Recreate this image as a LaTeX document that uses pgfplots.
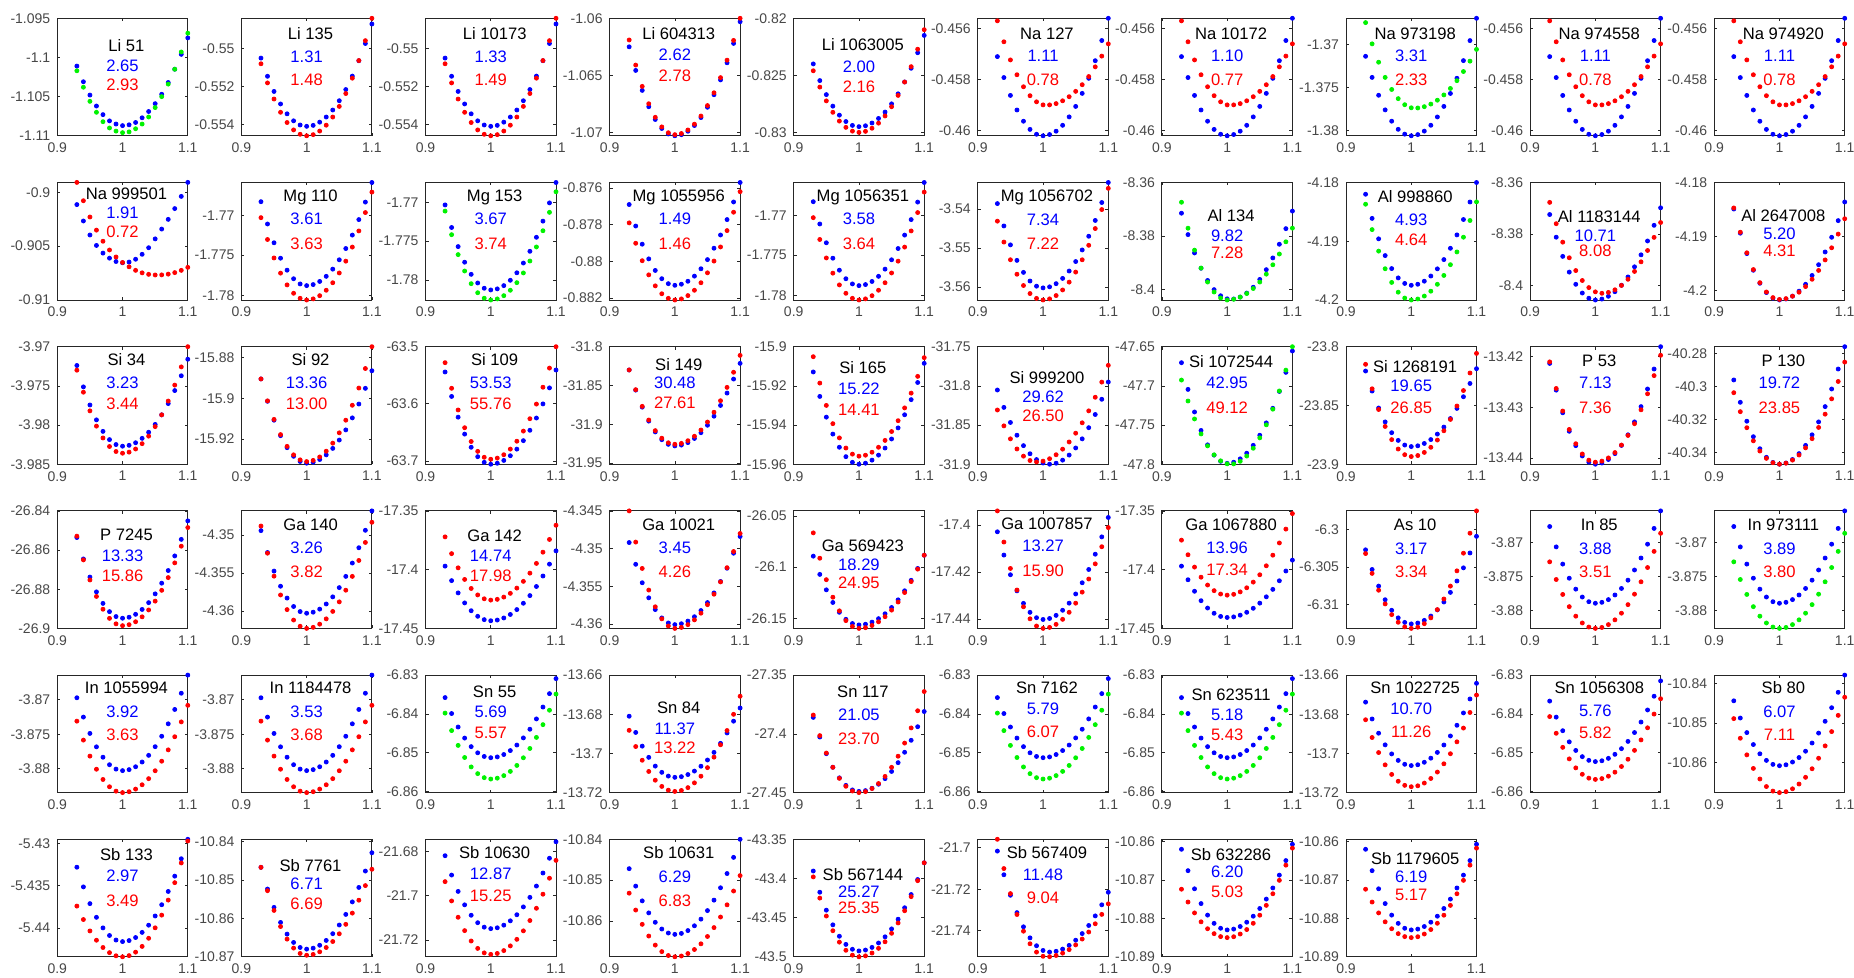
\documentclass[border=0pt]{standalone}
\usepackage{fontspec}
\setmainfont{Liberation Sans}
\usepackage{pgfplots}
\pgfplotsset{compat=1.18}
\definecolor{mb}{rgb}{0,0,1}
\definecolor{mr}{rgb}{1,0,0}
\definecolor{mg}{rgb}{0,0.95,0}
\pgfplotsset{
 cell/.style 2 args={at={({28.65pt+92.05pt*#1},{-9.15pt-82.1pt*#2})}},
 panel/.style={anchor=north west, width=65.25pt, height=58.75pt, scale only axis,
  xmin=0.9, xmax=1.1, xtick={0.9,1,1.1}, scaled ticks=false, clip=false,
  axis line style={black!85, line width=0.45pt}, tick style={black!85, line width=0.35pt},
  major tick length=1.5pt,
  tick label style={font=\fontsize{7}{8}\selectfont, text=black!72},
  yticklabel style={/pgf/number format/fixed, /pgf/number format/precision=4},
  xticklabel style={/pgf/number format/fixed, /pgf/number format/precision=2},
  /pgf/number format/assume math mode=true,
  every axis plot post/.append style={only marks, mark=*, mark size=1pt}}
}
\newcommand{\lab}[6]{%
 \node[font=\fontsize{8.3}{9}\selectfont, text=black] at (rel axis cs:0.53,#4) {#1};
 \node[font=\fontsize{8.3}{9}\selectfont, text=mb] at (rel axis cs:0.5,#5) {#2};
 \node[font=\fontsize{8.3}{9}\selectfont, text=mr] at (rel axis cs:0.5,#6) {#3};}

\newcommand{\dLiA}[1]{%
\addplot[mb] coordinates {(0.93,-1.1011)(0.94,-1.1031)(0.95,-1.1048)(0.96,-1.1062)(0.97,-1.1073)(0.98,-1.1081)(0.99,-1.1085)(1,-1.1087)(1.01,-1.1086)(1.02,-1.1083)(1.03,-1.1077)(1.04,-1.1069)(1.05,-1.1059)(1.06,-1.1047)(1.07,-1.1032)(1.08,-1.1015)(1.09,-1.0996)(1.1,-1.0975)};
\addplot[#1] coordinates {(0.93,-1.1017)(0.94,-1.1038)(0.95,-1.1056)(0.96,-1.107)(0.97,-1.1082)(0.98,-1.109)(0.99,-1.1094)(1,-1.1096)(1.01,-1.1095)(1.02,-1.1091)(1.03,-1.1085)(1.04,-1.1076)(1.05,-1.1064)(1.06,-1.105)(1.07,-1.1034)(1.08,-1.1015)(1.09,-1.0993)(1.1,-1.0969)};}
\newcommand{\dLiB}[1]{%
\addplot[mb] coordinates {(0.93,-0.5505)(0.94,-0.55146)(0.95,-0.55226)(0.96,-0.55292)(0.97,-0.55344)(0.98,-0.55381)(0.99,-0.55403)(1,-0.5541)(1.01,-0.55405)(1.02,-0.55388)(1.03,-0.55361)(1.04,-0.55324)(1.05,-0.55275)(1.06,-0.55216)(1.07,-0.55145)(1.08,-0.55064)(1.09,-0.54973)(1.1,-0.5487)};
\addplot[#1] coordinates {(0.93,-0.5508)(0.94,-0.55181)(0.95,-0.55266)(0.96,-0.55336)(0.97,-0.5539)(0.98,-0.55429)(0.99,-0.55452)(1,-0.5546)(1.01,-0.55454)(1.02,-0.55435)(1.03,-0.55404)(1.04,-0.55361)(1.05,-0.55305)(1.06,-0.55237)(1.07,-0.55156)(1.08,-0.55063)(1.09,-0.54958)(1.1,-0.5484)};}
\newcommand{\dLiC}[1]{%
\addplot[mb] coordinates {(0.93,-1.0625)(0.94,-1.06457)(0.95,-1.06632)(0.96,-1.06775)(0.97,-1.06887)(0.98,-1.06966)(0.99,-1.07014)(1,-1.0703)(1.01,-1.0702)(1.02,-1.0699)(1.03,-1.0694)(1.04,-1.0687)(1.05,-1.0678)(1.06,-1.0667)(1.07,-1.0654)(1.08,-1.0639)(1.09,-1.0622)(1.1,-1.0603)};
\addplot[#1] coordinates {(0.93,-1.0619)(0.94,-1.0641)(0.95,-1.06597)(0.96,-1.06749)(0.97,-1.06868)(0.98,-1.06952)(0.99,-1.07003)(1,-1.0702)(1.01,-1.0701)(1.02,-1.06979)(1.03,-1.06928)(1.04,-1.06857)(1.05,-1.06765)(1.06,-1.06653)(1.07,-1.0652)(1.08,-1.06367)(1.09,-1.06194)(1.1,-1.06)};}
\newcommand{\dLiD}[1]{%
\addplot[mb] coordinates {(0.93,-0.824)(0.94,-0.82546)(0.95,-0.82669)(0.96,-0.8277)(0.97,-0.82849)(0.98,-0.82905)(0.99,-0.82939)(1,-0.8295)(1.01,-0.82942)(1.02,-0.82918)(1.03,-0.82878)(1.04,-0.82822)(1.05,-0.8275)(1.06,-0.82662)(1.07,-0.82558)(1.08,-0.82438)(1.09,-0.82302)(1.1,-0.8215)};
\addplot[#1] coordinates {(0.93,-0.8246)(0.94,-0.82603)(0.95,-0.82724)(0.96,-0.82824)(0.97,-0.82901)(0.98,-0.82956)(0.99,-0.82989)(1,-0.83)(1.01,-0.82991)(1.02,-0.82964)(1.03,-0.82919)(1.04,-0.82856)(1.05,-0.82775)(1.06,-0.82676)(1.07,-0.82559)(1.08,-0.82424)(1.09,-0.82271)(1.1,-0.821)};}
\newcommand{\dNaA}[1]{%
\addplot[mb] coordinates {(0.93,-0.4571)(0.94,-0.45792)(0.95,-0.45862)(0.96,-0.45919)(0.97,-0.45963)(0.98,-0.45995)(0.99,-0.46014)(1,-0.4602)(1.01,-0.46015)(1.02,-0.46002)(1.03,-0.45979)(1.04,-0.45946)(1.05,-0.45905)(1.06,-0.45854)(1.07,-0.45795)(1.08,-0.45726)(1.09,-0.45647)(1.1,-0.4556)};
\addplot[#1] coordinates {(0.93,-0.4557)(0.94,-0.45652)(0.95,-0.45723)(0.96,-0.45781)(0.97,-0.45828)(0.98,-0.45863)(0.99,-0.45887)(1,-0.45899)(1.01,-0.45899)(1.02,-0.45894)(1.03,-0.45883)(1.04,-0.45867)(1.05,-0.45846)(1.06,-0.4582)(1.07,-0.45788)(1.08,-0.4575)(1.09,-0.45708)(1.1,-0.4566)};}
\newcommand{\dNaB}[1]{%
\addplot[mb] coordinates {(0.93,-1.3714)(0.94,-1.37384)(0.95,-1.37591)(0.96,-1.3776)(0.97,-1.37891)(0.98,-1.37985)(0.99,-1.38041)(1,-1.3806)(1.01,-1.38046)(1.02,-1.38006)(1.03,-1.37938)(1.04,-1.37842)(1.05,-1.3772)(1.06,-1.3757)(1.07,-1.37394)(1.08,-1.3719)(1.09,-1.36958)(1.1,-1.367)};
\addplot[#1] coordinates {(0.93,-1.3675)(0.94,-1.36996)(0.95,-1.37208)(0.96,-1.37384)(0.97,-1.37524)(0.98,-1.3763)(0.99,-1.377)(1,-1.37736)(1.01,-1.37738)(1.02,-1.37723)(1.03,-1.37693)(1.04,-1.37648)(1.05,-1.37587)(1.06,-1.37512)(1.07,-1.37422)(1.08,-1.37316)(1.09,-1.37196)(1.1,-1.3706)};}
\newcommand{\dNaC}[1]{%
\addplot[mb] coordinates {(0.93,-0.90115)(0.94,-0.90267)(0.95,-0.90397)(0.96,-0.90494)(0.97,-0.90565)(0.98,-0.90612)(0.99,-0.90643)(1,-0.90655)(1.01,-0.90648)(1.02,-0.90622)(1.03,-0.90576)(1.04,-0.90515)(1.05,-0.90433)(1.06,-0.90342)(1.07,-0.90252)(1.08,-0.90152)(1.09,-0.90039)(1.1,-0.89909)};
\addplot[#1] coordinates {(0.93,-0.89909)(0.94,-0.90079)(0.95,-0.9023)(0.96,-0.90352)(0.97,-0.90455)(0.98,-0.90536)(0.99,-0.90601)(1,-0.90652)(1.01,-0.90692)(1.02,-0.90725)(1.03,-0.90748)(1.04,-0.90762)(1.05,-0.90768)(1.06,-0.90767)(1.07,-0.9076)(1.08,-0.90746)(1.09,-0.90725)(1.1,-0.90697)};}
\newcommand{\dMgA}[1]{%
\addplot[mb] coordinates {(0.93,-1.7683)(0.94,-1.77109)(0.95,-1.77344)(0.96,-1.77537)(0.97,-1.77687)(0.98,-1.77794)(0.99,-1.77859)(1,-1.7788)(1.01,-1.77867)(1.02,-1.77828)(1.03,-1.77764)(1.04,-1.77674)(1.05,-1.77557)(1.06,-1.77416)(1.07,-1.77248)(1.08,-1.77054)(1.09,-1.76835)(1.1,-1.7659)};
\addplot[#1] coordinates {(0.93,-1.7703)(0.94,-1.77303)(0.95,-1.77534)(0.96,-1.77724)(0.97,-1.77871)(0.98,-1.77976)(0.99,-1.78039)(1,-1.7806)(1.01,-1.78046)(1.02,-1.78006)(1.03,-1.77938)(1.04,-1.77844)(1.05,-1.77722)(1.06,-1.77574)(1.07,-1.77398)(1.08,-1.77196)(1.09,-1.76966)(1.1,-1.7671)};}
\newcommand{\dMgB}[1]{%
\addplot[mb] coordinates {(0.93,-1.7703)(0.94,-1.77322)(0.95,-1.77569)(0.96,-1.77771)(0.97,-1.77928)(0.98,-1.7804)(0.99,-1.78108)(1,-1.7813)(1.01,-1.78116)(1.02,-1.78074)(1.03,-1.78005)(1.04,-1.77908)(1.05,-1.77782)(1.06,-1.7763)(1.07,-1.77449)(1.08,-1.7724)(1.09,-1.77004)(1.1,-1.7674)};
\addplot[#1] coordinates {(0.93,-1.7711)(0.94,-1.77415)(0.95,-1.77673)(0.96,-1.77885)(0.97,-1.78049)(0.98,-1.78166)(0.99,-1.78237)(1,-1.7826)(1.01,-1.78246)(1.02,-1.78204)(1.03,-1.78134)(1.04,-1.78036)(1.05,-1.7791)(1.06,-1.77756)(1.07,-1.77574)(1.08,-1.77364)(1.09,-1.77126)(1.1,-1.7686)};}
\newcommand{\dMgC}[1]{%
\addplot[mb] coordinates {(0.93,-0.8769)(0.94,-0.87807)(0.95,-0.87906)(0.96,-0.87986)(0.97,-0.88049)(0.98,-0.88094)(0.99,-0.88121)(1,-0.8813)(1.01,-0.88124)(1.02,-0.88108)(1.03,-0.8808)(1.04,-0.8804)(1.05,-0.8799)(1.06,-0.87928)(1.07,-0.87856)(1.08,-0.87772)(1.09,-0.87676)(1.1,-0.8757)};
\addplot[#1] coordinates {(0.93,-0.8779)(0.94,-0.87901)(0.95,-0.87996)(0.96,-0.88073)(0.97,-0.88133)(0.98,-0.88176)(0.99,-0.88201)(1,-0.8821)(1.01,-0.88204)(1.02,-0.88186)(1.03,-0.88157)(1.04,-0.88116)(1.05,-0.88062)(1.06,-0.87998)(1.07,-0.87921)(1.08,-0.87832)(1.09,-0.87732)(1.1,-0.8762)};}
\newcommand{\dMgD}[1]{%
\addplot[mb] coordinates {(0.93,-3.5386)(0.94,-3.54433)(0.95,-3.54918)(0.96,-3.55315)(0.97,-3.55623)(0.98,-3.55844)(0.99,-3.55976)(1,-3.5602)(1.01,-3.55993)(1.02,-3.55912)(1.03,-3.55777)(1.04,-3.55588)(1.05,-3.55345)(1.06,-3.55048)(1.07,-3.54697)(1.08,-3.54292)(1.09,-3.53833)(1.1,-3.5332)};
\addplot[#1] coordinates {(0.93,-3.5431)(0.94,-3.54846)(0.95,-3.55299)(0.96,-3.5567)(0.97,-3.55959)(0.98,-3.56165)(0.99,-3.56289)(1,-3.5633)(1.01,-3.56301)(1.02,-3.56216)(1.03,-3.56073)(1.04,-3.55872)(1.05,-3.55615)(1.06,-3.553)(1.07,-3.54929)(1.08,-3.545)(1.09,-3.54013)(1.1,-3.5347)};}
\newcommand{\dAlA}[1]{%
\addplot[mb] coordinates {(0.93,-8.3715)(0.94,-8.37951)(0.95,-8.38638)(0.96,-8.39211)(0.97,-8.39669)(0.98,-8.40012)(0.99,-8.40241)(1,-8.40356)(1.01,-8.40361)(1.02,-8.40288)(1.03,-8.40141)(1.04,-8.39922)(1.05,-8.3963)(1.06,-8.39264)(1.07,-8.38825)(1.08,-8.38313)(1.09,-8.37728)(1.1,-8.3707)};
\addplot[#1] coordinates {(0.93,-8.3674)(0.94,-8.37711)(0.95,-8.38533)(0.96,-8.39205)(0.97,-8.39728)(0.98,-8.40101)(0.99,-8.40325)(1,-8.404)(1.01,-8.40373)(1.02,-8.40292)(1.03,-8.40158)(1.04,-8.3997)(1.05,-8.39727)(1.06,-8.39432)(1.07,-8.39082)(1.08,-8.38678)(1.09,-8.38221)(1.1,-8.3771)};}
\newcommand{\dAlB}[1]{%
\addplot[mb] coordinates {(0.93,-4.182)(0.94,-4.18611)(0.95,-4.18959)(0.96,-4.19244)(0.97,-4.19465)(0.98,-4.19624)(0.99,-4.19718)(1,-4.1975)(1.01,-4.19732)(1.02,-4.1968)(1.03,-4.19592)(1.04,-4.1947)(1.05,-4.19312)(1.06,-4.1912)(1.07,-4.18892)(1.08,-4.1863)(1.09,-4.18332)(1.1,-4.18)};
\addplot[#1] coordinates {(0.93,-4.1837)(0.94,-4.18802)(0.95,-4.19168)(0.96,-4.19468)(0.97,-4.19701)(0.98,-4.19867)(0.99,-4.19967)(1,-4.2)(1.01,-4.19983)(1.02,-4.19933)(1.03,-4.1985)(1.04,-4.19733)(1.05,-4.19582)(1.06,-4.19399)(1.07,-4.19182)(1.08,-4.18931)(1.09,-4.18647)(1.1,-4.1833)};}
\newcommand{\dAlC}[1]{%
\addplot[mb] coordinates {(0.93,-8.3724)(0.94,-8.38118)(0.95,-8.38861)(0.96,-8.39469)(0.97,-8.39942)(0.98,-8.4028)(0.99,-8.40482)(1,-8.4055)(1.01,-8.40514)(1.02,-8.40407)(1.03,-8.40229)(1.04,-8.39979)(1.05,-8.39657)(1.06,-8.39265)(1.07,-8.38801)(1.08,-8.38265)(1.09,-8.37658)(1.1,-8.3698)};
\addplot[#1] coordinates {(0.93,-8.3677)(0.94,-8.37595)(0.95,-8.3831)(0.96,-8.38915)(0.97,-8.3941)(0.98,-8.39795)(0.99,-8.4007)(1,-8.40235)(1.01,-8.4029)(1.02,-8.40256)(1.03,-8.40155)(1.04,-8.39986)(1.05,-8.39749)(1.06,-8.39444)(1.07,-8.39072)(1.08,-8.38633)(1.09,-8.38125)(1.1,-8.3755)};}
\newcommand{\dAlD}[1]{%
\addplot[mb] coordinates {(0.93,-4.1849)(0.94,-4.18936)(0.95,-4.19313)(0.96,-4.19621)(0.97,-4.19861)(0.98,-4.20033)(0.99,-4.20136)(1,-4.2017)(1.01,-4.20152)(1.02,-4.20098)(1.03,-4.20007)(1.04,-4.1988)(1.05,-4.19717)(1.06,-4.19518)(1.07,-4.19283)(1.08,-4.19012)(1.09,-4.18704)(1.1,-4.1836)};
\addplot[#1] coordinates {(0.93,-4.1847)(0.94,-4.18918)(0.95,-4.19298)(0.96,-4.19608)(0.97,-4.1985)(0.98,-4.20022)(0.99,-4.20126)(1,-4.2016)(1.01,-4.20145)(1.02,-4.201)(1.03,-4.20026)(1.04,-4.19922)(1.05,-4.19787)(1.06,-4.19624)(1.07,-4.1943)(1.08,-4.19206)(1.09,-4.18953)(1.1,-4.1867)};}
\newcommand{\dSiA}[1]{%
\addplot[mb] coordinates {(0.93,-3.9724)(0.94,-3.97513)(0.95,-3.97744)(0.96,-3.97934)(0.97,-3.98081)(0.98,-3.98186)(0.99,-3.98249)(1,-3.9827)(1.01,-3.98259)(1.02,-3.98226)(1.03,-3.9817)(1.04,-3.98092)(1.05,-3.97992)(1.06,-3.9787)(1.07,-3.97726)(1.08,-3.9756)(1.09,-3.97371)(1.1,-3.9716)};
\addplot[#1] coordinates {(0.93,-3.973)(0.94,-3.97581)(0.95,-3.97819)(0.96,-3.98014)(0.97,-3.98165)(0.98,-3.98274)(0.99,-3.98338)(1,-3.9836)(1.01,-3.98346)(1.02,-3.98306)(1.03,-3.98238)(1.04,-3.98142)(1.05,-3.9802)(1.06,-3.9787)(1.07,-3.97694)(1.08,-3.9749)(1.09,-3.97258)(1.1,-3.97)};}
\newcommand{\dSiB}[1]{%
\addplot[mb] coordinates {(0.93,-15.8905)(0.94,-15.90146)(0.95,-15.91073)(0.96,-15.91832)(0.97,-15.92421)(0.98,-15.92843)(0.99,-15.93096)(1,-15.9318)(1.01,-15.93135)(1.02,-15.92999)(1.03,-15.92772)(1.04,-15.92455)(1.05,-15.92047)(1.06,-15.91549)(1.07,-15.9096)(1.08,-15.90281)(1.09,-15.89511)(1.1,-15.8865)};
\addplot[#1] coordinates {(0.93,-15.8905)(0.94,-15.90125)(0.95,-15.91034)(0.96,-15.91778)(0.97,-15.92356)(0.98,-15.9277)(0.99,-15.93017)(1,-15.931)(1.01,-15.93044)(1.02,-15.92875)(1.03,-15.92593)(1.04,-15.92199)(1.05,-15.91692)(1.06,-15.91073)(1.07,-15.90341)(1.08,-15.89497)(1.09,-15.8854)(1.1,-15.8747)};}
\newcommand{\dSiC}[1]{%
\addplot[mb] coordinates {(0.93,-63.5443)(0.94,-63.58715)(0.95,-63.6234)(0.96,-63.65307)(0.97,-63.67613)(0.98,-63.69262)(0.99,-63.70251)(1,-63.7058)(1.01,-63.70415)(1.02,-63.6992)(1.03,-63.69095)(1.04,-63.6794)(1.05,-63.66455)(1.06,-63.6464)(1.07,-63.62495)(1.08,-63.6002)(1.09,-63.57215)(1.1,-63.5408)};
\addplot[#1] coordinates {(0.93,-63.528)(0.94,-63.57286)(0.95,-63.61082)(0.96,-63.64189)(0.97,-63.66604)(0.98,-63.6833)(0.99,-63.69365)(1,-63.6971)(1.01,-63.69513)(1.02,-63.68922)(1.03,-63.67936)(1.04,-63.66556)(1.05,-63.64782)(1.06,-63.62614)(1.07,-63.60052)(1.08,-63.57096)(1.09,-63.53745)(1.1,-63.5)};}
\newcommand{\dSiD}[1]{%
\addplot[mb] coordinates {(0.93,-31.83)(0.94,-31.85597)(0.95,-31.87795)(0.96,-31.89594)(0.97,-31.90992)(0.98,-31.91991)(0.99,-31.9259)(1,-31.9279)(1.01,-31.92684)(1.02,-31.92364)(1.03,-31.91832)(1.04,-31.91088)(1.05,-31.9013)(1.06,-31.8896)(1.07,-31.87576)(1.08,-31.8598)(1.09,-31.84172)(1.1,-31.8215)};
\addplot[#1] coordinates {(0.93,-31.83)(0.94,-31.85542)(0.95,-31.87692)(0.96,-31.89452)(0.97,-31.9082)(0.98,-31.91798)(0.99,-31.92385)(1,-31.9258)(1.01,-31.92465)(1.02,-31.92122)(1.03,-31.91549)(1.04,-31.90746)(1.05,-31.89715)(1.06,-31.88454)(1.07,-31.86965)(1.08,-31.85246)(1.09,-31.83297)(1.1,-31.8112)};}
\newcommand{\dSiE}[1]{%
\addplot[mb] coordinates {(0.93,-15.9129)(0.94,-15.9254)(0.95,-15.93597)(0.96,-15.94462)(0.97,-15.95135)(0.98,-15.95616)(0.99,-15.95904)(1,-15.96)(1.01,-15.95948)(1.02,-15.95794)(1.03,-15.95536)(1.04,-15.95176)(1.05,-15.94712)(1.06,-15.94146)(1.07,-15.93476)(1.08,-15.92704)(1.09,-15.91828)(1.1,-15.9085)};
\addplot[#1] coordinates {(0.93,-15.9051)(0.94,-15.91858)(0.95,-15.92998)(0.96,-15.93931)(0.97,-15.94657)(0.98,-15.95175)(0.99,-15.95486)(1,-15.9559)(1.01,-15.9554)(1.02,-15.95389)(1.03,-15.95137)(1.04,-15.94785)(1.05,-15.94332)(1.06,-15.93779)(1.07,-15.93125)(1.08,-15.92371)(1.09,-15.91516)(1.1,-15.9056)};}
\newcommand{\dSiF}[1]{%
\addplot[mb] coordinates {(0.93,-31.8053)(0.94,-31.8275)(0.95,-31.84673)(0.96,-31.86301)(0.97,-31.87632)(0.98,-31.88668)(0.99,-31.89408)(1,-31.89852)(1.01,-31.9)(1.02,-31.89871)(1.03,-31.89482)(1.04,-31.88835)(1.05,-31.87928)(1.06,-31.86763)(1.07,-31.85338)(1.08,-31.83655)(1.09,-31.81712)(1.1,-31.7951)};
\addplot[#1] coordinates {(0.93,-31.8308)(0.94,-31.85106)(0.95,-31.86764)(0.96,-31.88052)(0.97,-31.88973)(0.98,-31.89526)(0.99,-31.8971)(1,-31.89608)(1.01,-31.89302)(1.02,-31.88793)(1.03,-31.8808)(1.04,-31.87163)(1.05,-31.86042)(1.06,-31.84716)(1.07,-31.83189)(1.08,-31.81456)(1.09,-31.7952)(1.1,-31.7738)};}
\newcommand{\dSiG}[1]{%
\addplot[mb] coordinates {(0.93,-47.6704)(0.94,-47.70449)(0.95,-47.73334)(0.96,-47.75694)(0.97,-47.77529)(0.98,-47.78841)(0.99,-47.79628)(1,-47.7989)(1.01,-47.79747)(1.02,-47.79316)(1.03,-47.78599)(1.04,-47.77596)(1.05,-47.76305)(1.06,-47.74728)(1.07,-47.72863)(1.08,-47.70712)(1.09,-47.68275)(1.1,-47.6555)};
\addplot[#1] coordinates {(0.93,-47.6926)(0.94,-47.71933)(0.95,-47.74224)(0.96,-47.76134)(0.97,-47.77661)(0.98,-47.78807)(0.99,-47.7957)(1,-47.79953)(1.01,-47.79958)(1.02,-47.79626)(1.03,-47.7896)(1.04,-47.77964)(1.05,-47.76634)(1.06,-47.74972)(1.07,-47.72978)(1.08,-47.7065)(1.09,-47.67991)(1.1,-47.65)};}
\newcommand{\dSiH}[1]{%
\addplot[mb] coordinates {(0.93,-23.8207)(0.94,-23.83776)(0.95,-23.85219)(0.96,-23.86401)(0.97,-23.87319)(0.98,-23.87975)(0.99,-23.88369)(1,-23.885)(1.01,-23.88434)(1.02,-23.88235)(1.03,-23.87903)(1.04,-23.87439)(1.05,-23.86842)(1.06,-23.86113)(1.07,-23.85251)(1.08,-23.84257)(1.09,-23.8313)(1.1,-23.8187)};
\addplot[#1] coordinates {(0.93,-23.815)(0.94,-23.83583)(0.95,-23.85345)(0.96,-23.86787)(0.97,-23.87908)(0.98,-23.88709)(0.99,-23.8919)(1,-23.8935)(1.01,-23.89262)(1.02,-23.88999)(1.03,-23.8856)(1.04,-23.87945)(1.05,-23.87155)(1.06,-23.86189)(1.07,-23.85048)(1.08,-23.83731)(1.09,-23.82238)(1.1,-23.8057)};}
\newcommand{\dPA}[1]{%
\addplot[mb] coordinates {(0.93,-13.4213)(0.94,-13.42658)(0.95,-13.43105)(0.96,-13.4347)(0.97,-13.43754)(0.98,-13.43958)(0.99,-13.44079)(1,-13.4412)(1.01,-13.44097)(1.02,-13.44027)(1.03,-13.43911)(1.04,-13.43749)(1.05,-13.4354)(1.06,-13.43285)(1.07,-13.42983)(1.08,-13.42635)(1.09,-13.42241)(1.1,-13.418)};
\addplot[#1] coordinates {(0.93,-13.421)(0.94,-13.42625)(0.95,-13.4307)(0.96,-13.43434)(0.97,-13.43716)(0.98,-13.43918)(0.99,-13.4404)(1,-13.4408)(1.01,-13.44059)(1.02,-13.43996)(1.03,-13.4389)(1.04,-13.43742)(1.05,-13.43552)(1.06,-13.4332)(1.07,-13.43046)(1.08,-13.4273)(1.09,-13.42371)(1.1,-13.4197)};}
\newcommand{\dPB}[1]{%
\addplot[mb] coordinates {(0.93,-40.2961)(0.94,-40.3096)(0.95,-40.32103)(0.96,-40.33038)(0.97,-40.33765)(0.98,-40.34285)(0.99,-40.34596)(1,-40.347)(1.01,-40.34629)(1.02,-40.34416)(1.03,-40.34061)(1.04,-40.33564)(1.05,-40.32925)(1.06,-40.32144)(1.07,-40.31221)(1.08,-40.30156)(1.09,-40.28949)(1.1,-40.276)};
\addplot[#1] coordinates {(0.93,-40.3038)(0.94,-40.31526)(0.95,-40.32496)(0.96,-40.33289)(0.97,-40.33906)(0.98,-40.34347)(0.99,-40.34612)(1,-40.347)(1.01,-40.34638)(1.02,-40.34453)(1.03,-40.34145)(1.04,-40.33713)(1.05,-40.33157)(1.06,-40.32479)(1.07,-40.31677)(1.08,-40.30751)(1.09,-40.29702)(1.1,-40.2853)};}
\newcommand{\dPC}[1]{%
\addplot[mb] coordinates {(0.93,-26.8536)(0.94,-26.86453)(0.95,-26.87378)(0.96,-26.88135)(0.97,-26.88723)(0.98,-26.89144)(0.99,-26.89396)(1,-26.8948)(1.01,-26.8943)(1.02,-26.89281)(1.03,-26.89033)(1.04,-26.88685)(1.05,-26.88237)(1.06,-26.87691)(1.07,-26.87045)(1.08,-26.86299)(1.09,-26.85454)(1.1,-26.8451)};
\addplot[#1] coordinates {(0.93,-26.8529)(0.94,-26.86502)(0.95,-26.87528)(0.96,-26.88368)(0.97,-26.89021)(0.98,-26.89487)(0.99,-26.89767)(1,-26.8986)(1.01,-26.8981)(1.02,-26.8966)(1.03,-26.89409)(1.04,-26.89058)(1.05,-26.88607)(1.06,-26.88056)(1.07,-26.87405)(1.08,-26.86654)(1.09,-26.85802)(1.1,-26.8485)};}
\newcommand{\dGaA}[1]{%
\addplot[mb] coordinates {(0.93,-4.3494)(0.94,-4.35229)(0.95,-4.35474)(0.96,-4.35674)(0.97,-4.3583)(0.98,-4.35941)(0.99,-4.36008)(1,-4.3603)(1.01,-4.36016)(1.02,-4.35976)(1.03,-4.35908)(1.04,-4.35814)(1.05,-4.35692)(1.06,-4.35544)(1.07,-4.35368)(1.08,-4.35166)(1.09,-4.34936)(1.1,-4.3468)};
\addplot[#1] coordinates {(0.93,-4.3488)(0.94,-4.35238)(0.95,-4.35541)(0.96,-4.35789)(0.97,-4.35982)(0.98,-4.3612)(0.99,-4.36202)(1,-4.3623)(1.01,-4.36216)(1.02,-4.36174)(1.03,-4.36104)(1.04,-4.36006)(1.05,-4.3588)(1.06,-4.35726)(1.07,-4.35544)(1.08,-4.35334)(1.09,-4.35096)(1.1,-4.3483)};}
\newcommand{\dGaB}[1]{%
\addplot[mb] coordinates {(0.93,-17.397)(0.94,-17.40934)(0.95,-17.41978)(0.96,-17.42832)(0.97,-17.43496)(0.98,-17.43971)(0.99,-17.44255)(1,-17.4435)(1.01,-17.4429)(1.02,-17.44112)(1.03,-17.43814)(1.04,-17.43398)(1.05,-17.42862)(1.06,-17.42208)(1.07,-17.41434)(1.08,-17.40542)(1.09,-17.3953)(1.1,-17.384)};
\addplot[#1] coordinates {(0.93,-17.3721)(0.94,-17.38637)(0.95,-17.39845)(0.96,-17.40833)(0.97,-17.41602)(0.98,-17.42151)(0.99,-17.4248)(1,-17.4259)(1.01,-17.42526)(1.02,-17.42335)(1.03,-17.42017)(1.04,-17.41571)(1.05,-17.40997)(1.06,-17.40297)(1.07,-17.39469)(1.08,-17.38513)(1.09,-17.3743)(1.1,-17.3622)};}
\newcommand{\dGaC}[1]{%
\addplot[mb] coordinates {(0.93,-4.3492)(0.94,-4.35209)(0.95,-4.35454)(0.96,-4.35654)(0.97,-4.3581)(0.98,-4.35921)(0.99,-4.35988)(1,-4.3601)(1.01,-4.35998)(1.02,-4.35963)(1.03,-4.35905)(1.04,-4.35823)(1.05,-4.35717)(1.06,-4.35589)(1.07,-4.35437)(1.08,-4.35261)(1.09,-4.35062)(1.1,-4.3484)};
\addplot[#1] coordinates {(0.93,-4.345)(0.94,-4.34914)(0.95,-4.35264)(0.96,-4.35551)(0.97,-4.35773)(0.98,-4.35933)(0.99,-4.36028)(1,-4.3606)(1.01,-4.36047)(1.02,-4.3601)(1.03,-4.35947)(1.04,-4.35858)(1.05,-4.35745)(1.06,-4.35606)(1.07,-4.35443)(1.08,-4.35254)(1.09,-4.35039)(1.1,-4.348)};}
\newcommand{\dGaD}[1]{%
\addplot[mb] coordinates {(0.93,-26.0893)(0.94,-26.10715)(0.95,-26.12226)(0.96,-26.13463)(0.97,-26.14424)(0.98,-26.15111)(0.99,-26.15523)(1,-26.1566)(1.01,-26.15592)(1.02,-26.15387)(1.03,-26.15046)(1.04,-26.14569)(1.05,-26.13955)(1.06,-26.13205)(1.07,-26.12318)(1.08,-26.11295)(1.09,-26.10136)(1.1,-26.0884)};
\addplot[#1] coordinates {(0.93,-26.0665)(0.94,-26.09131)(0.95,-26.1123)(0.96,-26.12947)(0.97,-26.14282)(0.98,-26.15237)(0.99,-26.15809)(1,-26.16)(1.01,-26.15928)(1.02,-26.15714)(1.03,-26.15356)(1.04,-26.14854)(1.05,-26.1421)(1.06,-26.13422)(1.07,-26.12492)(1.08,-26.11418)(1.09,-26.102)(1.1,-26.0884)};}
\newcommand{\dGaE}[1]{%
\addplot[mb] coordinates {(0.93,-17.4029)(0.94,-17.4128)(0.95,-17.42117)(0.96,-17.42802)(0.97,-17.43335)(0.98,-17.43716)(0.99,-17.43944)(1,-17.4402)(1.01,-17.43977)(1.02,-17.43846)(1.03,-17.43629)(1.04,-17.43326)(1.05,-17.42935)(1.06,-17.42458)(1.07,-17.41893)(1.08,-17.41242)(1.09,-17.40505)(1.1,-17.3968)};
\addplot[#1] coordinates {(0.93,-17.394)(0.94,-17.40726)(0.95,-17.41849)(0.96,-17.42767)(0.97,-17.43481)(0.98,-17.43992)(0.99,-17.44298)(1,-17.444)(1.01,-17.44357)(1.02,-17.44228)(1.03,-17.44014)(1.04,-17.43714)(1.05,-17.43327)(1.06,-17.42856)(1.07,-17.42298)(1.08,-17.41654)(1.09,-17.40925)(1.1,-17.4011)};}
\newcommand{\dGaF}[1]{%
\addplot[mb] coordinates {(0.93,-17.397)(0.94,-17.40859)(0.95,-17.4184)(0.96,-17.42643)(0.97,-17.43267)(0.98,-17.43713)(0.99,-17.43981)(1,-17.4407)(1.01,-17.44021)(1.02,-17.43875)(1.03,-17.43631)(1.04,-17.43289)(1.05,-17.4285)(1.06,-17.42313)(1.07,-17.41679)(1.08,-17.40947)(1.09,-17.40117)(1.1,-17.3919)};
\addplot[#1] coordinates {(0.93,-17.3749)(0.94,-17.38732)(0.95,-17.39782)(0.96,-17.40642)(0.97,-17.4131)(0.98,-17.41788)(0.99,-17.42075)(1,-17.4217)(1.01,-17.42101)(1.02,-17.41892)(1.03,-17.41545)(1.04,-17.4106)(1.05,-17.40435)(1.06,-17.39672)(1.07,-17.38769)(1.08,-17.37728)(1.09,-17.36549)(1.1,-17.3523)};}
\newcommand{\dAs}[1]{%
\addplot[mb] coordinates {(0.93,-6.3027)(0.94,-6.30533)(0.95,-6.30755)(0.96,-6.30937)(0.97,-6.31078)(0.98,-6.31179)(0.99,-6.3124)(1,-6.3126)(1.01,-6.31248)(1.02,-6.31213)(1.03,-6.31155)(1.04,-6.31073)(1.05,-6.30967)(1.06,-6.30839)(1.07,-6.30687)(1.08,-6.30511)(1.09,-6.30312)(1.1,-6.3009)};
\addplot[#1] coordinates {(0.93,-6.3032)(0.94,-6.30585)(0.95,-6.3081)(0.96,-6.30993)(0.97,-6.31136)(0.98,-6.31238)(0.99,-6.313)(1,-6.3132)(1.01,-6.31304)(1.02,-6.31257)(1.03,-6.31179)(1.04,-6.31069)(1.05,-6.30927)(1.06,-6.30755)(1.07,-6.30551)(1.08,-6.30315)(1.09,-6.30048)(1.1,-6.2975)};}
\newcommand{\dInA}[1]{%
\addplot[mb] coordinates {(0.93,-3.8676)(0.94,-3.8706)(0.95,-3.87313)(0.96,-3.87521)(0.97,-3.87682)(0.98,-3.87798)(0.99,-3.87867)(1,-3.8789)(1.01,-3.87876)(1.02,-3.87836)(1.03,-3.87768)(1.04,-3.87672)(1.05,-3.8755)(1.06,-3.874)(1.07,-3.87224)(1.08,-3.8702)(1.09,-3.86788)(1.1,-3.8653)};
\addplot[#1] coordinates {(0.93,-3.8728)(0.94,-3.8754)(0.95,-3.8776)(0.96,-3.8794)(0.97,-3.8808)(0.98,-3.8818)(0.99,-3.8824)(1,-3.8826)(1.01,-3.88246)(1.02,-3.88204)(1.03,-3.88134)(1.04,-3.88036)(1.05,-3.8791)(1.06,-3.87756)(1.07,-3.87574)(1.08,-3.87364)(1.09,-3.87126)(1.1,-3.8686)};}
\newcommand{\dInB}[1]{%
\addplot[mb] coordinates {(0.93,-3.8697)(0.94,-3.87251)(0.95,-3.87489)(0.96,-3.87684)(0.97,-3.87835)(0.98,-3.87944)(0.99,-3.88008)(1,-3.8803)(1.01,-3.88016)(1.02,-3.87974)(1.03,-3.87905)(1.04,-3.87808)(1.05,-3.87682)(1.06,-3.8753)(1.07,-3.87349)(1.08,-3.8714)(1.09,-3.86904)(1.1,-3.8664)};
\addplot[#1] coordinates {(0.93,-3.8731)(0.94,-3.87586)(0.95,-3.87819)(0.96,-3.8801)(0.97,-3.88159)(0.98,-3.88265)(0.99,-3.88329)(1,-3.8835)(1.01,-3.88337)(1.02,-3.88299)(1.03,-3.88236)(1.04,-3.88147)(1.05,-3.88032)(1.06,-3.87893)(1.07,-3.87728)(1.08,-3.87537)(1.09,-3.87321)(1.1,-3.8708)};}
\newcommand{\dSnA}[1]{%
\addplot[mb] coordinates {(0.93,-6.8358)(0.94,-6.83991)(0.95,-6.84339)(0.96,-6.84624)(0.97,-6.84845)(0.98,-6.85004)(0.99,-6.85098)(1,-6.8513)(1.01,-6.8511)(1.02,-6.85048)(1.03,-6.84946)(1.04,-6.84804)(1.05,-6.8462)(1.06,-6.84396)(1.07,-6.8413)(1.08,-6.83824)(1.09,-6.83478)(1.1,-6.8309)};
\addplot[#1] coordinates {(0.93,-6.8398)(0.94,-6.84431)(0.95,-6.84813)(0.96,-6.85125)(0.97,-6.85368)(0.98,-6.85541)(0.99,-6.85645)(1,-6.8568)(1.01,-6.85658)(1.02,-6.85592)(1.03,-6.85483)(1.04,-6.8533)(1.05,-6.85132)(1.06,-6.84892)(1.07,-6.84607)(1.08,-6.84278)(1.09,-6.83906)(1.1,-6.8349)};}
\newcommand{\dSnB}[1]{%
\addplot[mb] coordinates {(0.93,-13.681)(0.94,-13.68928)(0.95,-13.69628)(0.96,-13.70201)(0.97,-13.70647)(0.98,-13.70965)(0.99,-13.71156)(1,-13.7122)(1.01,-13.71185)(1.02,-13.71078)(1.03,-13.70901)(1.04,-13.70654)(1.05,-13.70335)(1.06,-13.69946)(1.07,-13.69485)(1.08,-13.68954)(1.09,-13.68353)(1.1,-13.6768)};
\addplot[#1] coordinates {(0.93,-13.6882)(0.94,-13.69648)(0.95,-13.70348)(0.96,-13.70921)(0.97,-13.71367)(0.98,-13.71685)(0.99,-13.71876)(1,-13.7194)(1.01,-13.71891)(1.02,-13.71746)(1.03,-13.71503)(1.04,-13.71162)(1.05,-13.70725)(1.06,-13.7019)(1.07,-13.69559)(1.08,-13.6883)(1.09,-13.68003)(1.1,-13.6708)};}
\newcommand{\dSnC}[1]{%
\addplot[mb] coordinates {(0.93,-27.386)(0.94,-27.40271)(0.95,-27.41686)(0.96,-27.42843)(0.97,-27.43743)(0.98,-27.44386)(0.99,-27.44771)(1,-27.449)(1.01,-27.44832)(1.02,-27.44628)(1.03,-27.44288)(1.04,-27.43812)(1.05,-27.432)(1.06,-27.42452)(1.07,-27.41568)(1.08,-27.40548)(1.09,-27.39392)(1.1,-27.381)};
\addplot[#1] coordinates {(0.93,-27.384)(0.94,-27.40151)(0.95,-27.41633)(0.96,-27.42845)(0.97,-27.43788)(0.98,-27.44461)(0.99,-27.44865)(1,-27.45)(1.01,-27.44914)(1.02,-27.44656)(1.03,-27.44226)(1.04,-27.43624)(1.05,-27.4285)(1.06,-27.41904)(1.07,-27.40786)(1.08,-27.39496)(1.09,-27.38034)(1.1,-27.364)};}
\newcommand{\dSnD}[1]{%
\addplot[mb] coordinates {(0.93,-13.6738)(0.94,-13.6824)(0.95,-13.68967)(0.96,-13.69562)(0.97,-13.70025)(0.98,-13.70356)(0.99,-13.70554)(1,-13.7062)(1.01,-13.70578)(1.02,-13.70452)(1.03,-13.70242)(1.04,-13.69948)(1.05,-13.6957)(1.06,-13.69108)(1.07,-13.68562)(1.08,-13.67932)(1.09,-13.67218)(1.1,-13.6642)};
\addplot[#1] coordinates {(0.93,-13.6828)(0.94,-13.69187)(0.95,-13.69955)(0.96,-13.70583)(0.97,-13.71072)(0.98,-13.71421)(0.99,-13.7163)(1,-13.717)(1.01,-13.71653)(1.02,-13.71513)(1.03,-13.71279)(1.04,-13.70951)(1.05,-13.7053)(1.06,-13.70015)(1.07,-13.69407)(1.08,-13.68705)(1.09,-13.67909)(1.1,-13.6702)};}
\newcommand{\dSnE}[1]{%
\addplot[mb] coordinates {(0.93,-6.8367)(0.94,-6.84084)(0.95,-6.84434)(0.96,-6.84721)(0.97,-6.84943)(0.98,-6.85103)(0.99,-6.85198)(1,-6.8523)(1.01,-6.85209)(1.02,-6.85147)(1.03,-6.85043)(1.04,-6.84897)(1.05,-6.8471)(1.06,-6.84481)(1.07,-6.84211)(1.08,-6.83899)(1.09,-6.83545)(1.1,-6.8315)};
\addplot[#1] coordinates {(0.93,-6.8407)(0.94,-6.845)(0.95,-6.84863)(0.96,-6.85161)(0.97,-6.85392)(0.98,-6.85558)(0.99,-6.85657)(1,-6.8569)(1.01,-6.85669)(1.02,-6.85607)(1.03,-6.85503)(1.04,-6.85357)(1.05,-6.8517)(1.06,-6.84941)(1.07,-6.84671)(1.08,-6.84359)(1.09,-6.84005)(1.1,-6.8361)};}
\newcommand{\dSbA}[1]{%
\addplot[mb] coordinates {(0.93,-10.8444)(0.94,-10.84875)(0.95,-10.85243)(0.96,-10.85545)(0.97,-10.85779)(0.98,-10.85946)(0.99,-10.86047)(1,-10.8608)(1.01,-10.86057)(1.02,-10.85988)(1.03,-10.85874)(1.04,-10.85714)(1.05,-10.85507)(1.06,-10.85256)(1.07,-10.84958)(1.08,-10.84614)(1.09,-10.84225)(1.1,-10.8379)};
\addplot[#1] coordinates {(0.93,-10.8489)(0.94,-10.85386)(0.95,-10.85806)(0.96,-10.86149)(0.97,-10.86416)(0.98,-10.86607)(0.99,-10.86722)(1,-10.8676)(1.01,-10.86736)(1.02,-10.86664)(1.03,-10.86543)(1.04,-10.86374)(1.05,-10.86157)(1.06,-10.85892)(1.07,-10.85579)(1.08,-10.85218)(1.09,-10.84808)(1.1,-10.8435)};}
\newcommand{\dSbB}[1]{%
\addplot[mb] coordinates {(0.93,-5.4328)(0.94,-5.43513)(0.95,-5.43711)(0.96,-5.43873)(0.97,-5.43998)(0.98,-5.44088)(0.99,-5.44142)(1,-5.4416)(1.01,-5.44148)(1.02,-5.44112)(1.03,-5.44051)(1.04,-5.43966)(1.05,-5.43857)(1.06,-5.43724)(1.07,-5.43567)(1.08,-5.43386)(1.09,-5.4318)(1.1,-5.4295)};
\addplot[#1] coordinates {(0.93,-5.4374)(0.94,-5.43899)(0.95,-5.44034)(0.96,-5.44144)(0.97,-5.4423)(0.98,-5.44291)(0.99,-5.44328)(1,-5.4434)(1.01,-5.44326)(1.02,-5.44285)(1.03,-5.44217)(1.04,-5.44121)(1.05,-5.43997)(1.06,-5.43847)(1.07,-5.43669)(1.08,-5.43463)(1.09,-5.4323)(1.1,-5.4297)};}
\newcommand{\dSbC}[1]{%
\addplot[mb] coordinates {(0.93,-10.8467)(0.94,-10.85235)(0.95,-10.85713)(0.96,-10.86105)(0.97,-10.86409)(0.98,-10.86626)(0.99,-10.86757)(1,-10.868)(1.01,-10.86775)(1.02,-10.867)(1.03,-10.86574)(1.04,-10.86398)(1.05,-10.86172)(1.06,-10.85896)(1.07,-10.8557)(1.08,-10.85194)(1.09,-10.84767)(1.1,-10.8429)};
\addplot[#1] coordinates {(0.93,-10.8467)(0.94,-10.85278)(0.95,-10.85792)(0.96,-10.86212)(0.97,-10.86539)(0.98,-10.86773)(0.99,-10.86913)(1,-10.8696)(1.01,-10.86938)(1.02,-10.8687)(1.03,-10.86758)(1.04,-10.86602)(1.05,-10.864)(1.06,-10.86154)(1.07,-10.85862)(1.08,-10.85526)(1.09,-10.85146)(1.1,-10.8472)};}
\newcommand{\dSbD}[1]{%
\addplot[mb] coordinates {(0.93,-21.682)(0.94,-21.69073)(0.95,-21.69811)(0.96,-21.70416)(0.97,-21.70886)(0.98,-21.71222)(0.99,-21.71423)(1,-21.7149)(1.01,-21.71451)(1.02,-21.71333)(1.03,-21.71137)(1.04,-21.70863)(1.05,-21.7051)(1.06,-21.70079)(1.07,-21.69569)(1.08,-21.68981)(1.09,-21.68315)(1.1,-21.6757)};
\addplot[#1] coordinates {(0.93,-21.6937)(0.94,-21.7024)(0.95,-21.70977)(0.96,-21.71579)(0.97,-21.72047)(0.98,-21.72382)(0.99,-21.72583)(1,-21.7265)(1.01,-21.72608)(1.02,-21.7248)(1.03,-21.72268)(1.04,-21.71972)(1.05,-21.7159)(1.06,-21.71124)(1.07,-21.70572)(1.08,-21.69936)(1.09,-21.69216)(1.1,-21.6841)};}
\newcommand{\dSbE}[1]{%
\addplot[mb] coordinates {(0.93,-10.8472)(0.94,-10.85147)(0.95,-10.85509)(0.96,-10.85804)(0.97,-10.86034)(0.98,-10.86199)(0.99,-10.86297)(1,-10.8633)(1.01,-10.86307)(1.02,-10.86237)(1.03,-10.8612)(1.04,-10.85957)(1.05,-10.85747)(1.06,-10.85491)(1.07,-10.85188)(1.08,-10.84839)(1.09,-10.84443)(1.1,-10.84)};
\addplot[#1] coordinates {(0.93,-10.8532)(0.94,-10.85734)(0.95,-10.86084)(0.96,-10.86371)(0.97,-10.86593)(0.98,-10.86753)(0.99,-10.86848)(1,-10.8688)(1.01,-10.8686)(1.02,-10.868)(1.03,-10.86701)(1.04,-10.86562)(1.05,-10.86382)(1.06,-10.86164)(1.07,-10.85905)(1.08,-10.85606)(1.09,-10.85268)(1.1,-10.8489)};}
\newcommand{\dSbF}[1]{%
\addplot[mb] coordinates {(0.93,-43.3905)(0.94,-43.41756)(0.95,-43.44046)(0.96,-43.4592)(0.97,-43.47376)(0.98,-43.48418)(0.99,-43.49042)(1,-43.4925)(1.01,-43.49137)(1.02,-43.488)(1.03,-43.48237)(1.04,-43.4745)(1.05,-43.46437)(1.06,-43.452)(1.07,-43.43737)(1.08,-43.4205)(1.09,-43.40137)(1.1,-43.38)};
\addplot[#1] coordinates {(0.93,-43.398)(0.94,-43.42506)(0.95,-43.44796)(0.96,-43.4667)(0.97,-43.48126)(0.98,-43.49168)(0.99,-43.49792)(1,-43.5)(1.01,-43.4988)(1.02,-43.4952)(1.03,-43.4892)(1.04,-43.4808)(1.05,-43.47)(1.06,-43.4568)(1.07,-43.4412)(1.08,-43.4232)(1.09,-43.4028)(1.1,-43.38)};}
\newcommand{\dSbG}[1]{%
\addplot[mb] coordinates {(0.93,-21.7016)(0.94,-21.71304)(0.95,-21.72295)(0.96,-21.73134)(0.97,-21.7382)(0.98,-21.74354)(0.99,-21.74735)(1,-21.74964)(1.01,-21.7504)(1.02,-21.75004)(1.03,-21.74897)(1.04,-21.74719)(1.05,-21.74469)(1.06,-21.74148)(1.07,-21.73756)(1.08,-21.73292)(1.09,-21.72757)(1.1,-21.7215)};
\addplot[#1] coordinates {(0.93,-21.6959)(0.94,-21.71004)(0.95,-21.72215)(0.96,-21.73225)(0.97,-21.74033)(0.98,-21.74639)(0.99,-21.75043)(1,-21.75245)(1.01,-21.75263)(1.02,-21.75206)(1.03,-21.75093)(1.04,-21.74923)(1.05,-21.74696)(1.06,-21.74412)(1.07,-21.74072)(1.08,-21.73674)(1.09,-21.7322)(1.1,-21.7271)};}
\newcommand{\dSbH}[1]{%
\addplot[mb] coordinates {(0.93,-10.862)(0.94,-10.86757)(0.95,-10.87229)(0.96,-10.87614)(0.97,-10.87914)(0.98,-10.88129)(0.99,-10.88257)(1,-10.883)(1.01,-10.88278)(1.02,-10.88211)(1.03,-10.88099)(1.04,-10.87943)(1.05,-10.87742)(1.06,-10.87497)(1.07,-10.87207)(1.08,-10.86873)(1.09,-10.86494)(1.1,-10.8607)};
\addplot[#1] coordinates {(0.93,-10.8724)(0.94,-10.87574)(0.95,-10.87857)(0.96,-10.88089)(0.97,-10.88269)(0.98,-10.88397)(0.99,-10.88474)(1,-10.885)(1.01,-10.88477)(1.02,-10.88407)(1.03,-10.8829)(1.04,-10.88127)(1.05,-10.87917)(1.06,-10.87661)(1.07,-10.87358)(1.08,-10.87009)(1.09,-10.86613)(1.1,-10.8617)};}

\begin{document}
\begin{tikzpicture}
\useasboundingbox (0pt,-489pt) rectangle (927pt,0pt);
% Row 1
\begin{axis}[panel, cell={0}{0}, ymin=-1.11, ymax=-1.095, ytick={-1.11,-1.105,-1.1,-1.095}]
\dLiA{mg}\lab{Li 51}{2.65}{2.93}{0.77}{0.60}{0.43}
\end{axis}
\begin{axis}[panel, cell={1}{0}, ymin=-0.5546, ymax=-0.5484, ytick={-0.554,-0.552,-0.55}]
\dLiB{mr}\lab{Li 135}{1.31}{1.48}{0.87}{0.675}{0.48}
\end{axis}
\begin{axis}[panel, cell={2}{0}, ymin=-0.5546, ymax=-0.5484, ytick={-0.554,-0.552,-0.55}]
\dLiB{mr}\lab{Li 10173}{1.33}{1.49}{0.87}{0.675}{0.48}
\end{axis}
\begin{axis}[panel, cell={3}{0}, ymin=-1.0703, ymax=-1.06, ytick={-1.07,-1.065,-1.06}]
\dLiC{mr}\lab{Li 604313}{2.62}{2.78}{0.87}{0.69}{0.51}
\end{axis}
\begin{axis}[panel, cell={4}{0}, ymin=-0.8303, ymax=-0.82, ytick={-0.83,-0.825,-0.82}]
\dLiD{mr}\lab{Li 1063005}{2.00}{2.16}{0.78}{0.59}{0.42}
\end{axis}
\begin{axis}[panel, cell={5}{0}, ymin=-0.4602, ymax=-0.4556, ytick={-0.46,-0.458,-0.456}]
\dNaA{mr}\lab{Na 127}{1.11}{0.78}{0.87}{0.68}{0.48}
\end{axis}
\begin{axis}[panel, cell={6}{0}, ymin=-0.4602, ymax=-0.4556, ytick={-0.46,-0.458,-0.456}]
\dNaA{mr}\lab{Na 10172}{1.10}{0.77}{0.87}{0.68}{0.48}
\end{axis}
\begin{axis}[panel, cell={7}{0}, ymin=-1.3806, ymax=-1.367, ytick={-1.38,-1.375,-1.37}]
\dNaB{mg}\lab{Na 973198}{3.31}{2.33}{0.87}{0.68}{0.48}
\end{axis}
\begin{axis}[panel, cell={8}{0}, ymin=-0.4602, ymax=-0.4556, ytick={-0.46,-0.458,-0.456}]
\dNaA{mr}\lab{Na 974558}{1.11}{0.78}{0.87}{0.68}{0.48}
\end{axis}
\begin{axis}[panel, cell={9}{0}, ymin=-0.4602, ymax=-0.4556, ytick={-0.46,-0.458,-0.456}]
\dNaA{mr}\lab{Na 974920}{1.11}{0.78}{0.87}{0.68}{0.48}
\end{axis}
% Row 2
\begin{axis}[panel, cell={0}{1}, ymin=-0.91, ymax=-0.8991, ytick={-0.91,-0.905,-0.9}]
\dNaC{mr}\lab{Na 999501}{1.91}{0.72}{0.90}{0.74}{0.58}
\end{axis}
\begin{axis}[panel, cell={1}{1}, ymin=-1.7806, ymax=-1.7659, ytick={-1.78,-1.775,-1.77}]
\dMgA{mr}\lab{Mg 110}{3.61}{3.63}{0.87}{0.69}{0.48}
\end{axis}
\begin{axis}[panel, cell={2}{1}, ymin=-1.7826, ymax=-1.7674, ytick={-1.78,-1.775,-1.77}]
\dMgB{mg}\lab{Mg 153}{3.67}{3.74}{0.87}{0.69}{0.48}
\end{axis}
\begin{axis}[panel, cell={3}{1}, ymin=-0.8821, ymax=-0.8757, ytick={-0.882,-0.88,-0.878,-0.876}]
\dMgC{mr}\lab{Mg 1055956}{1.49}{1.46}{0.87}{0.69}{0.48}
\end{axis}
\begin{axis}[panel, cell={4}{1}, ymin=-1.7806, ymax=-1.7659, ytick={-1.78,-1.775,-1.77}]
\dMgA{mr}\lab{Mg 1056351}{3.58}{3.64}{0.87}{0.69}{0.48}
\end{axis}
\begin{axis}[panel, cell={5}{1}, ymin=-3.5633, ymax=-3.5332, ytick={-3.56,-3.55,-3.54}]
\dMgD{mr}\lab{Mg 1056702}{7.34}{7.22}{0.87}{0.68}{0.48}
\end{axis}
\begin{axis}[panel, cell={6}{1}, ymin=-8.404, ymax=-8.36, ytick={-8.4,-8.38,-8.36}]
\dAlA{mg}\lab{Al 134}{9.82}{7.28}{0.72}{0.55}{0.40}
\end{axis}
\begin{axis}[panel, cell={7}{1}, ymin=-4.2, ymax=-4.18, ytick={-4.2,-4.19,-4.18}]
\dAlB{mg}\lab{Al 998860}{4.93}{4.64}{0.88}{0.68}{0.51}
\end{axis}
\begin{axis}[panel, cell={8}{1}, ymin=-8.4055, ymax=-8.36, ytick={-8.4,-8.38,-8.36}]
\dAlC{mr}\lab{Al 1183144}{10.71}{8.08}{0.71}{0.55}{0.42}
\end{axis}
\begin{axis}[panel, cell={9}{1}, ymin=-4.2017, ymax=-4.18, ytick={-4.2,-4.19,-4.18}]
\dAlD{mr}\lab{Al 2647008}{5.20}{4.31}{0.72}{0.56}{0.42}
\end{axis}
% Row 3
\begin{axis}[panel, cell={0}{2}, ymin=-3.985, ymax=-3.97, ytick={-3.985,-3.98,-3.975,-3.97}]
\dSiA{mr}\lab{Si 34}{3.23}{3.44}{0.89}{0.69}{0.51}
\end{axis}
\begin{axis}[panel, cell={1}{2}, ymin=-15.9323, ymax=-15.8747, ytick={-15.92,-15.9,-15.88}]
\dSiB{mr}\lab{Si 92}{13.36}{13.00}{0.89}{0.69}{0.51}
\end{axis}
\begin{axis}[panel, cell={2}{2}, ymin=-63.7058, ymax=-63.5, ytick={-63.7,-63.6,-63.5}]
\dSiC{mr}\lab{Si 109}{53.53}{55.76}{0.89}{0.69}{0.51}
\end{axis}
\begin{axis}[panel, cell={3}{2}, ymin=-31.9515, ymax=-31.8, ytick={-31.95,-31.9,-31.85,-31.8}]
\dSiD{mr}\lab{Si 149}{30.48}{27.61}{0.85}{0.69}{0.52}
\end{axis}
\begin{axis}[panel, cell={4}{2}, ymin=-15.96, ymax=-15.9, ytick={-15.96,-15.94,-15.92,-15.9}]
\dSiE{mr}\lab{Si 165}{15.22}{14.41}{0.82}{0.64}{0.46}
\end{axis}
\begin{axis}[panel, cell={5}{2}, ymin=-31.9, ymax=-31.75, ytick={-31.9,-31.85,-31.8,-31.75}]
\dSiF{mr}\lab{Si 999200}{29.62}{26.50}{0.74}{0.57}{0.41}
\end{axis}
\begin{axis}[panel, cell={6}{2}, ymin=-47.8, ymax=-47.65, ytick={-47.8,-47.75,-47.7,-47.65}]
\dSiG{mg}\lab{Si 1072544}{42.95}{49.12}{0.87}{0.69}{0.48}
\end{axis}
\begin{axis}[panel, cell={7}{2}, ymin=-23.9, ymax=-23.8, ytick={-23.9,-23.85,-23.8}]
\dSiH{mr}\lab{Si 1268191}{19.65}{26.85}{0.83}{0.67}{0.48}
\end{axis}
\begin{axis}[panel, cell={8}{2}, ymin=-13.4412, ymax=-13.418, ytick={-13.44,-13.43,-13.42}]
\dPA{mr}\lab{P 53}{7.13}{7.36}{0.88}{0.69}{0.48}
\end{axis}
\begin{axis}[panel, cell={9}{2}, ymin=-40.347, ymax=-40.276, ytick={-40.34,-40.32,-40.3,-40.28}]
\dPB{mr}\lab{P 130}{19.72}{23.85}{0.88}{0.69}{0.48}
\end{axis}
% Row 4
\begin{axis}[panel, cell={0}{3}, ymin=-26.9, ymax=-26.84, ytick={-26.9,-26.88,-26.86,-26.84}]
\dPC{mr}\lab{P 7245}{13.33}{15.86}{0.80}{0.62}{0.45}
\end{axis}
\begin{axis}[panel, cell={1}{3}, ymin=-4.3623, ymax=-4.3468, ytick={-4.36,-4.355,-4.35}]
\dGaA{mr}\lab{Ga 140}{3.26}{3.82}{0.88}{0.69}{0.48}
\end{axis}
\begin{axis}[panel, cell={2}{3}, ymin=-17.45, ymax=-17.35, ytick={-17.45,-17.4,-17.35}]
\dGaB{mr}\lab{Ga 142}{14.74}{17.98}{0.79}{0.62}{0.45}
\end{axis}
\begin{axis}[panel, cell={3}{3}, ymin=-4.3606, ymax=-4.345, ytick={-4.36,-4.355,-4.35,-4.345}]
\dGaC{mr}\lab{Ga 10021}{3.45}{4.26}{0.88}{0.69}{0.48}
\end{axis}
\begin{axis}[panel, cell={4}{3}, ymin=-26.16, ymax=-26.045, ytick={-26.15,-26.1,-26.05}]
\dGaD{mr}\lab{Ga 569423}{18.29}{24.95}{0.70}{0.54}{0.39}
\end{axis}
\begin{axis}[panel, cell={5}{3}, ymin=-17.444, ymax=-17.394, ytick={-17.44,-17.42,-17.4}]
\dGaE{mr}\lab{Ga 1007857}{13.27}{15.90}{0.89}{0.70}{0.49}
\end{axis}
\begin{axis}[panel, cell={6}{3}, ymin=-17.45, ymax=-17.35, ytick={-17.45,-17.4,-17.35}]
\dGaF{mr}\lab{Ga 1067880}{13.96}{17.34}{0.88}{0.69}{0.50}
\end{axis}
\begin{axis}[panel, cell={7}{3}, ymin=-6.3132, ymax=-6.2975, ytick={-6.31,-6.305,-6.3}]
\dAs{mr}\lab{As 10}{3.17}{3.34}{0.88}{0.68}{0.48}
\end{axis}
\begin{axis}[panel, cell={8}{3}, ymin=-3.8826, ymax=-3.8653, ytick={-3.88,-3.875,-3.87}]
\dInA{mr}\lab{In 85}{3.88}{3.51}{0.88}{0.68}{0.48}
\end{axis}
\begin{axis}[panel, cell={9}{3}, ymin=-3.8826, ymax=-3.8653, ytick={-3.88,-3.875,-3.87}]
\dInA{mg}\lab{In 973111}{3.89}{3.80}{0.88}{0.68}{0.48}
\end{axis}
% Row 5
\begin{axis}[panel, cell={0}{4}, ymin=-3.8835, ymax=-3.8664, ytick={-3.88,-3.875,-3.87}]
\dInB{mr}\lab{In 1055994}{3.92}{3.63}{0.89}{0.69}{0.49}
\end{axis}
\begin{axis}[panel, cell={1}{4}, ymin=-3.8835, ymax=-3.8664, ytick={-3.88,-3.875,-3.87}]
\dInB{mr}\lab{In 1184478}{3.53}{3.68}{0.89}{0.69}{0.49}
\end{axis}
\begin{axis}[panel, cell={2}{4}, ymin=-6.8603, ymax=-6.83, ytick={-6.86,-6.85,-6.84,-6.83}]
\dSnA{mg}\lab{Sn 55}{5.69}{5.57}{0.86}{0.69}{0.51}
\end{axis}
\begin{axis}[panel, cell={3}{4}, ymin=-13.72, ymax=-13.66, ytick={-13.72,-13.7,-13.68,-13.66}]
\dSnB{mr}\lab{Sn 84}{11.37}{13.22}{0.72}{0.54}{0.38}
\end{axis}
\begin{axis}[panel, cell={4}{4}, ymin=-27.45, ymax=-27.35, ytick={-27.45,-27.4,-27.35}]
\dSnC{mr}\lab{Sn 117}{21.05}{23.70}{0.86}{0.66}{0.46}
\end{axis}
\begin{axis}[panel, cell={5}{4}, ymin=-6.8603, ymax=-6.83, ytick={-6.86,-6.85,-6.84,-6.83}]
\dSnA{mg}\lab{Sn 7162}{5.79}{6.07}{0.89}{0.71}{0.52}
\end{axis}
\begin{axis}[panel, cell={6}{4}, ymin=-6.8603, ymax=-6.83, ytick={-6.86,-6.85,-6.84,-6.83}]
\dSnA{mg}\lab{Sn 623511}{5.18}{5.43}{0.83}{0.66}{0.49}
\end{axis}
\begin{axis}[panel, cell={7}{4}, ymin=-13.72, ymax=-13.66, ytick={-13.72,-13.7,-13.68,-13.66}]
\dSnD{mr}\lab{Sn 1022725}{10.70}{11.26}{0.89}{0.71}{0.52}
\end{axis}
\begin{axis}[panel, cell={8}{4}, ymin=-6.8603, ymax=-6.83, ytick={-6.86,-6.85,-6.84,-6.83}]
\dSnE{mr}\lab{Sn 1056308}{5.76}{5.82}{0.89}{0.70}{0.51}
\end{axis}
\begin{axis}[panel, cell={9}{4}, ymin=-10.8676, ymax=-10.8379, ytick={-10.86,-10.85,-10.84}]
\dSbA{mr}\lab{Sb 80}{6.07}{7.11}{0.89}{0.69}{0.49}
\end{axis}
% Row 6
\begin{axis}[panel, cell={0}{5}, ymin=-5.4434, ymax=-5.4295, ytick={-5.44,-5.435,-5.43}]
\dSbB{mr}\lab{Sb 133}{2.97}{3.49}{0.87}{0.69}{0.48}
\end{axis}
\begin{axis}[panel, cell={1}{5}, ymin=-10.87, ymax=-10.8394, ytick={-10.87,-10.86,-10.85,-10.84}]
\dSbC{mr}\lab{Sb 7761}{6.71}{6.69}{0.78}{0.62}{0.45}
\end{axis}
\begin{axis}[panel, cell={2}{5}, ymin=-21.7276, ymax=-21.6746, ytick={-21.72,-21.7,-21.68}]
\dSbD{mr}\lab{Sb 10630}{12.87}{15.25}{0.89}{0.71}{0.52}
\end{axis}
\begin{axis}[panel, cell={3}{5}, ymin=-10.8688, ymax=-10.84, ytick={-10.86,-10.85,-10.84}]
\dSbE{mr}\lab{Sb 10631}{6.29}{6.83}{0.89}{0.68}{0.48}
\end{axis}
\begin{axis}[panel, cell={4}{5}, ymin=-43.5, ymax=-43.35, ytick={-43.5,-43.45,-43.4,-43.35}]
\dSbF{mr}\lab{Sb 567144}{25.27}{25.35}{0.70}{0.55}{0.42}
\end{axis}
\begin{axis}[panel, cell={5}{5}, ymin=-21.7527, ymax=-21.6959, ytick={-21.74,-21.72,-21.7}]
\dSbG{mr}\lab{Sb 567409}{11.48}{9.04}{0.89}{0.70}{0.50}
\end{axis}
\begin{axis}[panel, cell={6}{5}, ymin=-10.89, ymax=-10.8594, ytick={-10.89,-10.88,-10.87,-10.86}]
\dSbH{mr}\lab{Sb 632286}{6.20}{5.03}{0.87}{0.72}{0.55}
\end{axis}
\begin{axis}[panel, cell={7}{5}, ymin=-10.89, ymax=-10.8594, ytick={-10.89,-10.88,-10.87,-10.86}]
\dSbH{mr}\lab{Sb 1179605}{6.19}{5.17}{0.84}{0.68}{0.53}
\end{axis}
\end{tikzpicture}
\end{document}
